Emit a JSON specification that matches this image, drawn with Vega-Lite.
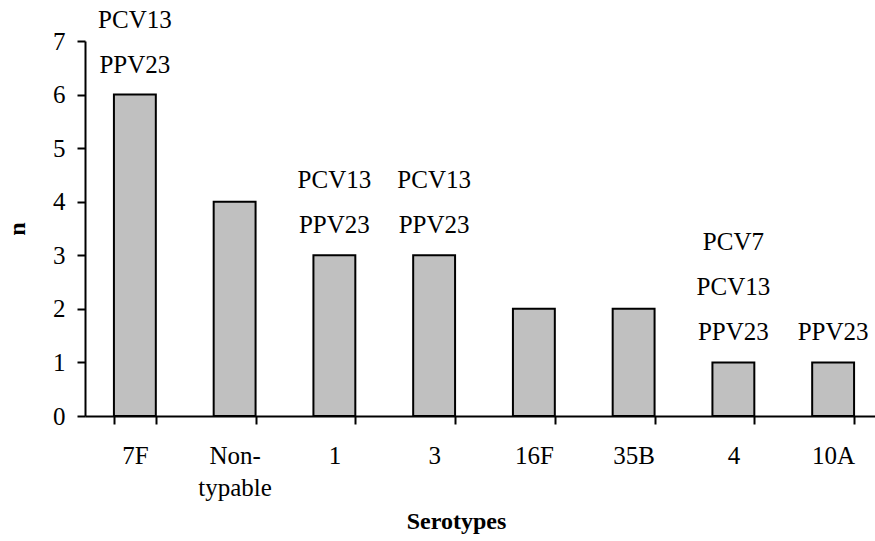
{
  "$schema": "https://vega.github.io/schema/vega-lite/v6.json",
  "autosize": {"type": "none"},
  "padding": {"left": 85, "top": 41, "right": 0, "bottom": 125},
  "width": 790,
  "height": 375,
  "background": "white",
  "config": {
    "font": "Times New Roman, Liberation Serif, DejaVu Serif, serif",
    "view": {"stroke": null}
  },
  "datasets": {
    "bars": [
      {"serotype": "7F", "n": 6},
      {"serotype": "Non-typable", "n": 4},
      {"serotype": "1", "n": 3},
      {"serotype": "3", "n": 3},
      {"serotype": "16F", "n": 2},
      {"serotype": "35B", "n": 2},
      {"serotype": "4", "n": 1},
      {"serotype": "10A", "n": 1}
    ],
    "labels": [
      {"serotype": "7F", "n": 6, "line": 0, "vaccine": "PPV23"},
      {"serotype": "7F", "n": 6, "line": 1, "vaccine": "PCV13"},
      {"serotype": "1", "n": 3, "line": 0, "vaccine": "PPV23"},
      {"serotype": "1", "n": 3, "line": 1, "vaccine": "PCV13"},
      {"serotype": "3", "n": 3, "line": 0, "vaccine": "PPV23"},
      {"serotype": "3", "n": 3, "line": 1, "vaccine": "PCV13"},
      {"serotype": "4", "n": 1, "line": 0, "vaccine": "PPV23"},
      {"serotype": "4", "n": 1, "line": 1, "vaccine": "PCV13"},
      {"serotype": "4", "n": 1, "line": 2, "vaccine": "PCV7"},
      {"serotype": "10A", "n": 1, "line": 0, "vaccine": "PPV23"}
    ]
  },
  "encoding": {
    "x": {
      "field": "serotype",
      "type": "nominal",
      "sort": ["7F", "Non-typable", "1", "3", "16F", "35B", "4", "10A"],
      "scale": {"domain": ["7F", "Non-typable", "1", "3", "16F", "35B", "4", "10A"], "range": [0, 798], "paddingInner": 0.58, "paddingOuter": 0.29},
      "axis": {
        "title": "Serotypes",
        "titleFont": "Times New Roman, Liberation Serif, DejaVu Serif, serif",
        "titleFontSize": 24,
        "titleFontWeight": "bold",
        "titleColor": "black",
        "titleX": 371,
        "titleY": 112,
        "titleBaseline": "alphabetic",
        "titleAnchor": null,
        "labelAngle": 0,
        "labelFont": "Times New Roman, Liberation Serif, DejaVu Serif, serif",
        "labelFontSize": 25,
        "labelColor": "black",
        "labelPadding": 19,
        "labelLineHeight": 32,
        "labelExpr": "datum.value == 'Non-typable' ? ['Non-', 'typable'] : datum.value",
        "tickBand": "extent",
        "tickSize": 8,
        "tickColor": "black",
        "tickWidth": 2,
        "domainColor": "black",
        "domainWidth": 2,
        "grid": false
      }
    },
    "y": {
      "field": "n",
      "type": "quantitative",
      "scale": {"domain": [0, 7], "nice": false},
      "axis": {
        "title": "n",
        "titleFont": "Times New Roman, Liberation Serif, DejaVu Serif, serif",
        "titleFontSize": 24,
        "titleFontWeight": "bold",
        "titleColor": "black",
        "titleAngle": -90,
        "titleX": -61,
        "titleY": 187.5,
        "titleAlign": "center",
        "titleBaseline": "alphabetic",
        "values": [0, 1, 2, 3, 4, 5, 6, 7],
        "format": "d",
        "labelFont": "Times New Roman, Liberation Serif, DejaVu Serif, serif",
        "labelFontSize": 25,
        "labelColor": "black",
        "labelPadding": 12,
        "tickSize": 8,
        "tickColor": "black",
        "tickWidth": 2,
        "domainColor": "black",
        "domainWidth": 2,
        "grid": false
      }
    }
  },
  "layer": [
    {
      "data": {"name": "bars"},
      "mark": {"type": "bar", "fill": "#c0c0c0", "stroke": "black", "strokeWidth": 2}
    },
    {
      "data": {"name": "labels"},
      "transform": [{"filter": "datum.line == 0"}],
      "mark": {"type": "text", "baseline": "alphabetic", "align": "center", "dy": -22, "fontSize": 25, "color": "black", "font": "Times New Roman, Liberation Serif, DejaVu Serif, serif"},
      "encoding": {"text": {"field": "vaccine"}}
    },
    {
      "data": {"name": "labels"},
      "transform": [{"filter": "datum.line == 1"}],
      "mark": {"type": "text", "baseline": "alphabetic", "align": "center", "dy": -67, "fontSize": 25, "color": "black", "font": "Times New Roman, Liberation Serif, DejaVu Serif, serif"},
      "encoding": {"text": {"field": "vaccine"}}
    },
    {
      "data": {"name": "labels"},
      "transform": [{"filter": "datum.line == 2"}],
      "mark": {"type": "text", "baseline": "alphabetic", "align": "center", "dy": -112, "fontSize": 25, "color": "black", "font": "Times New Roman, Liberation Serif, DejaVu Serif, serif"},
      "encoding": {"text": {"field": "vaccine"}}
    }
  ]
}
